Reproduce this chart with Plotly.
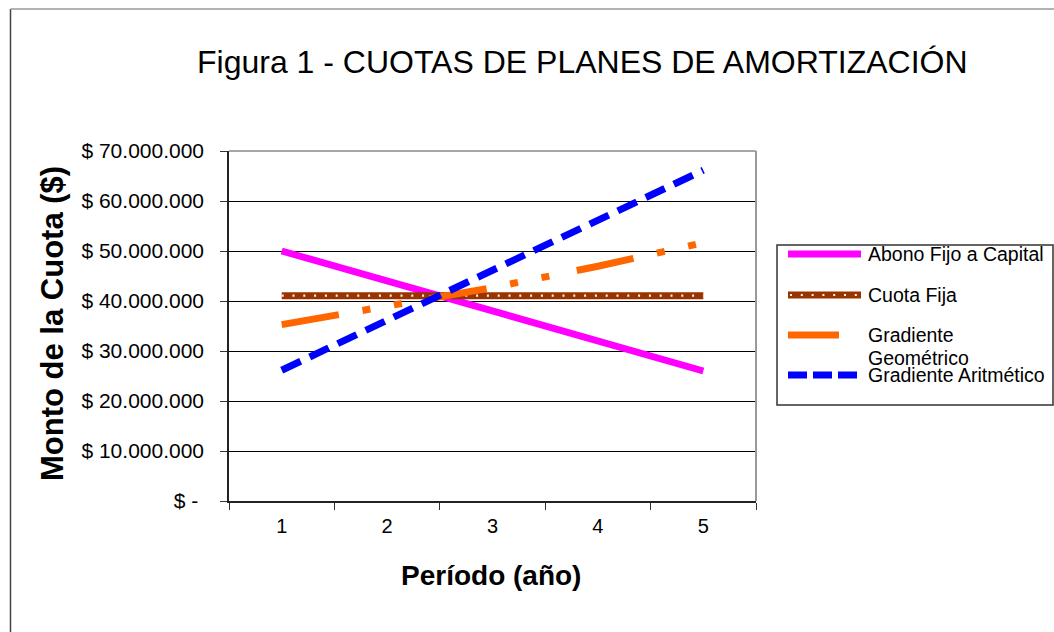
import plotly.graph_objects as go

periodos = ["1", "2", "3", "4", "5"]
abono_fijo = [50.0e6, 44.0e6, 38.0e6, 32.0e6, 26.0e6]
cuota_fija = [41.06e6, 41.06e6, 41.06e6, 41.06e6, 41.06e6]
grad_geometrico = [35.27e6, 38.80e6, 42.68e6, 46.95e6, 51.64e6]
grad_aritmetico = [26.15e6, 36.15e6, 46.15e6, 56.15e6, 66.15e6]

y_ticks = [0, 10e6, 20e6, 30e6, 40e6, 50e6, 60e6, 70e6]
y_ticktext = ["$ - ", "$ 10.000.000", "$ 20.000.000", "$ 30.000.000",
              "$ 40.000.000", "$ 50.000.000", "$ 60.000.000", "$ 70.000.000"]

series_names = ["Abono Fijo a Capital", "Cuota Fija", "Gradiente Geométrico", "Gradiente Aritmético"]

W, H = 1054, 632
L, R, T, B = 229, 756, 151, 501
FONT = "Arial, Liberation Sans, sans-serif"

MAG = "#FF00FF"
BROWN = "#993300"
ORANGE = "#FF6600"
BLUE = "#0000FF"


def px(x):
    return (x - L) / (R - L)


def py(y):
    return (B - y) / (B - T)


fig = go.Figure()
fig.add_trace(go.Scatter(x=periodos, y=abono_fijo, mode="lines", name=series_names[0],
                         line=dict(color=MAG, width=7)))
fig.add_trace(go.Scatter(x=periodos, y=cuota_fija, mode="lines", name=series_names[1],
                         line=dict(color=BROWN, width=7)))
fig.add_trace(go.Scatter(x=periodos, y=cuota_fija, mode="lines", showlegend=False,
                         line=dict(color="#FFF4EA", width=2.2, dash="2px,8.8px")))
fig.add_trace(go.Scatter(x=periodos, y=grad_geometrico, mode="lines", name=series_names[2],
                         line=dict(color=ORANGE, width=7, dash="58px,24px,8px,24px,8px,28px")))
fig.add_trace(go.Scatter(x=periodos, y=grad_aritmetico, mode="lines", name=series_names[3],
                         line=dict(color=BLUE, width=7, dash="21px,10px")))

shapes = []
# plot area border (top/right gray)
shapes.append(dict(type="line", xref="paper", yref="paper", x0=0, x1=1, y0=1, y1=1,
                   line=dict(color="#888888", width=1.5), layer="above"))
shapes.append(dict(type="line", xref="paper", yref="paper", x0=1, x1=1, y0=0, y1=1,
                   line=dict(color="#999999", width=2), layer="above"))
# outer chart border
shapes.append(dict(type="line", xref="paper", yref="paper", x0=px(10.5), x1=px(10.5),
                   y0=py(9), y1=py(640), line=dict(color="#444444", width=1.5)))
shapes.append(dict(type="line", xref="paper", yref="paper", x0=px(10.5), x1=px(1060),
                   y0=py(9), y1=py(9), line=dict(color="#999999", width=1.5)))
# legend box
shapes.append(dict(type="rect", xref="paper", yref="paper", x0=px(777), x1=px(1053),
                   y0=py(405), y1=py(245), line=dict(color="#333333", width=1.5),
                   fillcolor="white"))

leg_rows = [254, 295, 335, 375]
# legend symbols
shapes.append(dict(type="line", xref="paper", yref="paper", x0=px(788), x1=px(861),
                   y0=py(leg_rows[0]), y1=py(leg_rows[0]), line=dict(color=MAG, width=7)))
shapes.append(dict(type="line", xref="paper", yref="paper", x0=px(788), x1=px(861),
                   y0=py(leg_rows[1]), y1=py(leg_rows[1]), line=dict(color=BROWN, width=7)))
shapes.append(dict(type="line", xref="paper", yref="paper", x0=px(790), x1=px(861),
                   y0=py(leg_rows[1]), y1=py(leg_rows[1]),
                   line=dict(color="#FFF4EA", width=2.2, dash="2px,8.8px")))
shapes.append(dict(type="line", xref="paper", yref="paper", x0=px(788), x1=px(839),
                   y0=py(leg_rows[2]), y1=py(leg_rows[2]), line=dict(color=ORANGE, width=7)))
shapes.append(dict(type="line", xref="paper", yref="paper", x0=px(788), x1=px(859),
                   y0=py(leg_rows[3]), y1=py(leg_rows[3]),
                   line=dict(color=BLUE, width=7, dash="19px,6px")))

annotations = []
annotations.append(dict(text="Figura 1 - CUOTAS DE PLANES DE AMORTIZACIÓN", xref="paper", yref="paper",
                        x=px(582), y=py(62), xanchor="center", yanchor="middle", showarrow=False,
                        font=dict(family=FONT, size=32, color="black")))
annotations.append(dict(text="<b>Monto de la Cuota ($)</b>", xref="paper", yref="paper",
                        x=px(52), y=py(324), xanchor="center", yanchor="middle", showarrow=False,
                        textangle=-90, font=dict(family=FONT, size=31, color="black")))
annotations.append(dict(text="<b>Período (año)</b>", xref="paper", yref="paper",
                        x=px(491), y=py(575), xanchor="center", yanchor="middle", showarrow=False,
                        font=dict(family=FONT, size=28, color="black")))
leg_texts = [("Abono Fijo a Capital", 254), ("Cuota Fija", 295), ("Gradiente", 335),
             ("Geométrico", 358), ("Gradiente Aritmético", 375)]
for t, yy in leg_texts:
    annotations.append(dict(text=t, xref="paper", yref="paper", x=px(866), y=py(yy),
                            xanchor="left", yanchor="middle", showarrow=False,
                            font=dict(family=FONT, size=19.5, color="black")))

fig.update_layout(
    width=W, height=H,
    margin=dict(l=L, r=W - R, t=T, b=H - B, pad=0),
    paper_bgcolor="white", plot_bgcolor="white",
    showlegend=False,
    font=dict(family=FONT, size=20, color="black"),
    shapes=shapes, annotations=annotations,
    xaxis=dict(type="category", tickson="boundaries", ticks="outside", ticklen=7,
               tickcolor="#333333", tickwidth=1, showline=True, linecolor="#222222", linewidth=1.5,
               showgrid=False, zeroline=False, tickfont=dict(family=FONT, size=20, color="black"),
               ticklabelstandoff=6, range=[-0.5, 4.5]),
    yaxis=dict(range=[0, 70e6], tickvals=y_ticks, ticktext=y_ticktext, ticks="outside", ticklen=7,
               tickcolor="#333333", tickwidth=1, showline=True, linecolor="#222222", linewidth=1.5,
               showgrid=True, gridcolor="black", gridwidth=1, zeroline=False,
               ticklabelstandoff=12,
               tickfont=dict(family=FONT, size=21, color="black")),
)

fig.write_html("out.html")
